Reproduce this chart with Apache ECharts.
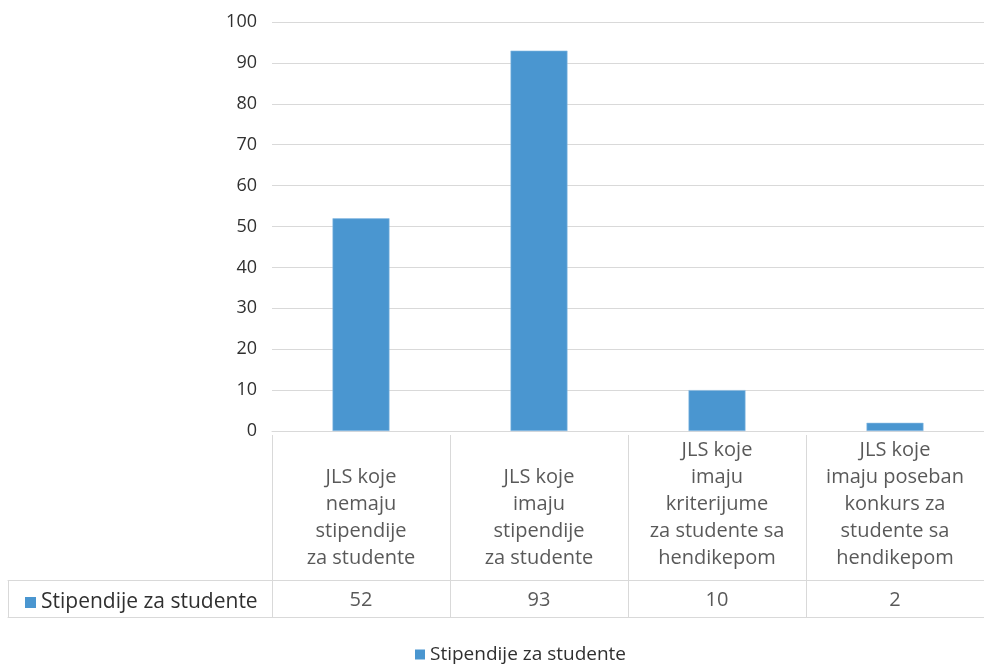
<!DOCTYPE html>
<html>
<head>
<meta charset="utf-8">
<script src="https://cdn.jsdelivr.net/npm/echarts@6/dist/echarts.min.js"></script>
<style>html,body{margin:0;padding:0;background:#fff;}#c{width:984px;height:665px;}</style>
</head>
<body>
<div id="c"></div>
<script>
const categories = [
  'JLS koje\nnemaju\nstipendije\nza studente',
  'JLS koje\nimaju\nstipendije\nza studente',
  'JLS koje\nimaju\nkriterijume\nza studente sa\nhendikepom',
  'JLS koje\nimaju poseban\nkonkurs za\nstudente sa\nhendikepom'
];
const values = [52, 93, 10, 2];
const seriesName = 'Stipendije za studente';
const yMin = 0, yMax = 100, yInterval = 10;

const FONT = 'Open Sans';
const TXT = '#303030';
const LINE = '#d9d9d9';
const BAR = '#4a96d0';

const chart = echarts.init(document.getElementById('c'), null, {renderer: 'canvas'});

const hiddenY = i => ({type: 'value', gridIndex: i, min: 0, max: 1, show: false});
const tableX = (i, pos, split, data) => ({
  type: 'category', gridIndex: i, position: pos, data: data,
  axisLine: {show: true, lineStyle: {color: LINE, width: 1}},
  axisTick: {show: false}, axisLabel: {show: false},
  splitLine: {show: split, showMinLine: true, showMaxLine: true, lineStyle: {color: LINE, width: 1}}
});

chart.setOption({
  animation: false,
  textStyle: {fontFamily: FONT, color: TXT},
  grid: [
    {left: 272, top: 22, width: 718, height: 409},
    {left: 272, top: 435, width: 718, height: 145},
    {left: 272, top: 580, width: 718, height: 37},
    {left: 8, top: 580, width: 264, height: 37}
  ],
  legend: [
    {data: [seriesName], selectedMode: false, left: 410, top: 640, icon: 'rect',
     itemWidth: 10, itemHeight: 10, itemGap: 4, itemStyle: {borderWidth: 0},
     textStyle: {fontFamily: FONT, fontSize: 19, color: TXT}},
    {data: [seriesName], selectedMode: false, left: 20, top: 587, icon: 'rect',
     itemWidth: 11, itemHeight: 11, itemGap: 4, itemStyle: {borderWidth: 0},
     textStyle: {fontFamily: FONT, fontSize: 21, color: TXT}}
  ],
  xAxis: [
    {type: 'category', gridIndex: 0, data: categories,
     axisLine: {show: true, lineStyle: {color: LINE}}, axisTick: {show: false}, axisLabel: {show: false}},
    tableX(1, 'bottom', true, categories),
    tableX(2, 'bottom', true, categories),
    tableX(2, 'top', false, categories),
    tableX(3, 'bottom', true, [seriesName]),
    tableX(3, 'top', false, [seriesName])
  ],
  yAxis: [
    {type: 'value', gridIndex: 0, min: yMin, max: yMax, interval: yInterval,
     axisLine: {show: false}, axisTick: {show: false},
     axisLabel: {color: TXT, fontFamily: FONT, fontSize: 18, margin: 15},
     splitLine: {show: true, lineStyle: {color: LINE, width: 1}}},
    hiddenY(1), hiddenY(2), hiddenY(3)
  ],
  series: [
    {name: seriesName, type: 'bar', xAxisIndex: 0, yAxisIndex: 0, data: values,
     barWidth: 57, itemStyle: {color: BAR, borderColor: '#8dbde4', borderWidth: 0.6}},
    {type: 'scatter', xAxisIndex: 1, yAxisIndex: 1, symbolSize: 1, silent: true,
     itemStyle: {color: 'transparent'},
     data: categories.map(c => [c, 0]),
     label: {show: true, position: 'inside', offset: [0, -8], formatter: p => categories[p.dataIndex],
             fontFamily: FONT, fontSize: 20, lineHeight: 27, color: TXT, align: 'center', verticalAlign: 'bottom'}},
    {type: 'scatter', xAxisIndex: 2, yAxisIndex: 2, symbolSize: 1, silent: true,
     itemStyle: {color: 'transparent'},
     data: values.map((v, i) => [categories[i], 0.5, v]),
     label: {show: true, position: 'inside', offset: [0, 2], formatter: p => String(p.value[2]),
             fontFamily: FONT, fontSize: 20, color: TXT, align: 'center', verticalAlign: 'middle'}}
  ]
});
</script>
</body>
</html>
